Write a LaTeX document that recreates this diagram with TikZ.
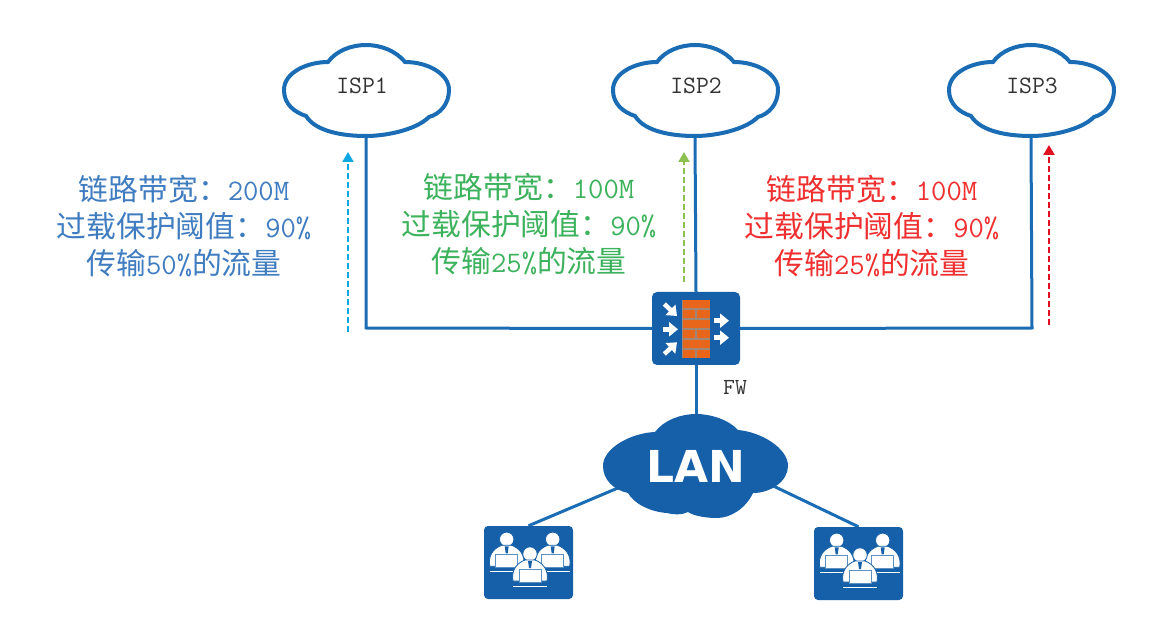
\documentclass[tikz,border=0pt]{standalone}
\usepackage{fontspec}
\setmainfont{Noto Sans CJK SC}
\newfontfamily\lanfont{DejaVu Sans}
\usetikzlibrary{arrows.meta}
\definecolor{netblue}{HTML}{1A6DB5}
\definecolor{boxblue}{HTML}{1560A8}
\definecolor{brick}{HTML}{E8651C}
\definecolor{mortar}{HTML}{A08878}
\definecolor{txtblue}{HTML}{3F7CC0}
\definecolor{txtgreen}{HTML}{3CB25C}
\definecolor{txtred}{HTML}{F03030}
\definecolor{arrblue}{HTML}{10A8E0}
\definecolor{arrgreen}{HTML}{8CC152}
\definecolor{arrred}{HTML}{E01020}
\newcommand{\lat}[1]{{\ttfamily #1}}
\tikzset{
  link/.style={draw=netblue,line width=3pt},
  cloudline/.style={draw=netblue,line width=4pt,fill=white},
  label/.style={align=center,inner sep=0pt,font=\fontsize{29.8}{37}\selectfont},
  isplabel/.style={inner sep=0pt,minimum width=167pt,minimum height=93pt,font=\fontsize{25}{28}\selectfont\ttfamily,text=black!80},
  flow/.style={dashed,dash pattern=on 6pt off 3pt,line width=2pt},
  inarrow/.style={draw=white,line width=4.5pt,-{Triangle[length=9pt,width=14pt]}},
  groupbox/.style={fill=boxblue,rounded corners=4pt,minimum width=89pt,minimum height=73pt,inner sep=0pt}
}
\newcommand{\ispcloud}[2]{%
  \path[cloudline,shift={(#1,#2)}] (-82,0) .. controls (-82,-18) and (-58,-28) .. (-38,-28)
   .. controls (-30,-39) and (-15,-45) .. (0,-45)
   .. controls (15,-45) and (30,-39) .. (39,-28)
   .. controls (62,-28) and (83,-16) .. (83,0)
   .. controls (83,14) and (74,24) .. (63,27)
   .. controls (50,40) and (20,46) .. (0,46)
   .. controls (-22,46) and (-50,42) .. (-60,26)
   .. controls (-72,22) and (-82,14) .. (-82,0) -- cycle;}
\newcommand{\person}[2]{%
  \begin{scope}[shift={(#1,#2)}]
    \fill[white,draw=boxblue,line width=.8pt] (0,0) circle (7.2);
    \fill[white,draw=boxblue,line width=.8pt] (-17,27) .. controls (-19,16) and (-13,9) .. (-5,6) -- (5,6)
      .. controls (13,9) and (19,16) .. (17,27) -- cycle;
    \fill[boxblue] (-2,7) -- (2,7) -- (1,14) -- (-1,14) -- cycle;
    \fill[white,draw=boxblue!70,line width=.9pt] (-11,15) rectangle (11,28);
    \fill[white] (-17,31.5) rectangle (17,33);
  \end{scope}}
\begin{document}
\begin{tikzpicture}[x=1pt,y=-1pt]
\useasboundingbox (0,0) rectangle (1160,628);
\fill[white] (0,0) rectangle (1160,628);
% junction
\coordinate (j1) at (366,328);
\coordinate (j3) at (1032,328);
% firewall
\node[fill=boxblue,rounded corners=5pt,minimum width=88pt,minimum height=73pt,inner sep=0pt] (fw) at (696,328.5) {};
\node[inner sep=0pt,font=\fontsize{23}{26}\selectfont\ttfamily,text=black!80] (fwl) at (735,388) {FW};
\fill[mortar] (682,300) rectangle (710,358);
\foreach \y in {300,320,340}{
  \fill[brick] (682.5,\y+.3) rectangle (709.5,\y+7.6);
  \fill[brick] (682.5,\y+10.3) rectangle (695,\y+17.6);
  \fill[brick] (697,\y+10.3) rectangle (709.5,\y+17.6);
}
\draw[inarrow] (664.3,304) -- (677,316);
\draw[inarrow] (662.7,329.3) -- (678,329.3);
\draw[inarrow] (664.3,354) -- (677,342.3);
\draw[inarrow] (714,320.7) -- (729,320.7);
\draw[inarrow] (714,337.7) -- (729,337.7);
% clouds
\node[isplabel] (isp1) at (366,90) {};
\node[isplabel] (isp2) at (695,90) {};
\node[isplabel] (isp3) at (1031,90) {};
\path[link] (isp1.south) -- (j1) -- (fw.west);
\path[link] (isp2.south) -- (fw.north);
\path[link] (isp3.south) -- (j3) -- (fw.east);
\ispcloud{366}{90}
\ispcloud{695}{90}
\ispcloud{1031}{90}
\node[isplabel] at (362,86) {ISP1};
\node[isplabel] at (696,86) {ISP2};
\node[isplabel] at (1032,86) {ISP3};
% LAN
\node[inner sep=0pt,minimum width=185pt,minimum height=104pt] (lan) at (696,466) {};
\coordinate (lanl) at (696,455);
\coordinate (lanr) at (696,449);
\node[inner sep=0pt,minimum width=89pt,minimum height=73pt] (g1) at (528.5,562.5) {};
\node[inner sep=0pt,minimum width=89pt,minimum height=73pt] (g2) at (858.5,563.5) {};
\path[link] (fw.south) -- (lan.north);
\path[link] (lanl) -- (g1.north);
\path[link] (lanr) -- (g2.north);
\fill[boxblue,shift={(696,466)}] (-93,0) .. controls (-93,-18) and (-65,-33) .. (-41,-34)
  .. controls (-32,-46) and (-15,-52) .. (0,-52)
  .. controls (15,-52) and (33,-46) .. (42,-36)
  .. controls (65,-34) and (92,-18) .. (92,0)
  .. controls (92,15) and (75,27) .. (57,27)
  .. controls (50,42) and (35,52) .. (21,52)
  .. controls (10,52) and (-2,50) .. (-8,46)
  .. controls (-14,49) and (-22,49) .. (-29,47)
  .. controls (-45,46) and (-62,38) .. (-68,27)
  .. controls (-82,24) and (-93,14) .. (-93,0) -- cycle;
\node[inner sep=0pt,text=white,font=\lanfont\bfseries\fontsize{44}{50}\selectfont] at (696,466) {LAN};
% user groups
\node[groupbox] at (g1) {};
\node[groupbox] at (g2) {};
\foreach \ox/\oy in {484/526,814/527}{
  \person{\ox+22.7}{\oy+13.3}
  \person{\ox+68.7}{\oy+13.3}
  \person{\ox+46}{\oy+28}
}
% flows
\coordinate (f1a) at (348,332); \coordinate (f1b) at (348,152);
\coordinate (f2a) at (684,282); \coordinate (f2b) at (684,152);
\coordinate (f3a) at (1049,325); \coordinate (f3b) at (1049,145);
\draw[flow,draw=arrblue,-{Triangle[length=10pt,width=11pt]}] (f1a) -- (f1b);
\draw[flow,draw=arrgreen,-{Triangle[length=10pt,width=11pt]}] (f2a) -- (f2b);
\draw[flow,draw=arrred,-{Triangle[length=10pt,width=11pt]}] (f3a) -- (f3b);
% labels
\node[label,text=txtblue] (t1) at (184,226) {链路带宽：\lat{200M}\\过载保护阈值：\lat{90\%}\\传输\lat{50\%}的流量};
\node[label,text=txtgreen] (t2) at (529,224) {链路带宽：\lat{100M}\\过载保护阈值：\lat{90\%}\\传输\lat{25\%}的流量};
\node[label,text=txtred] (t3) at (872,226) {链路带宽：\lat{100M}\\过载保护阈值：\lat{90\%}\\传输\lat{25\%}的流量};
\end{tikzpicture}
\end{document}
